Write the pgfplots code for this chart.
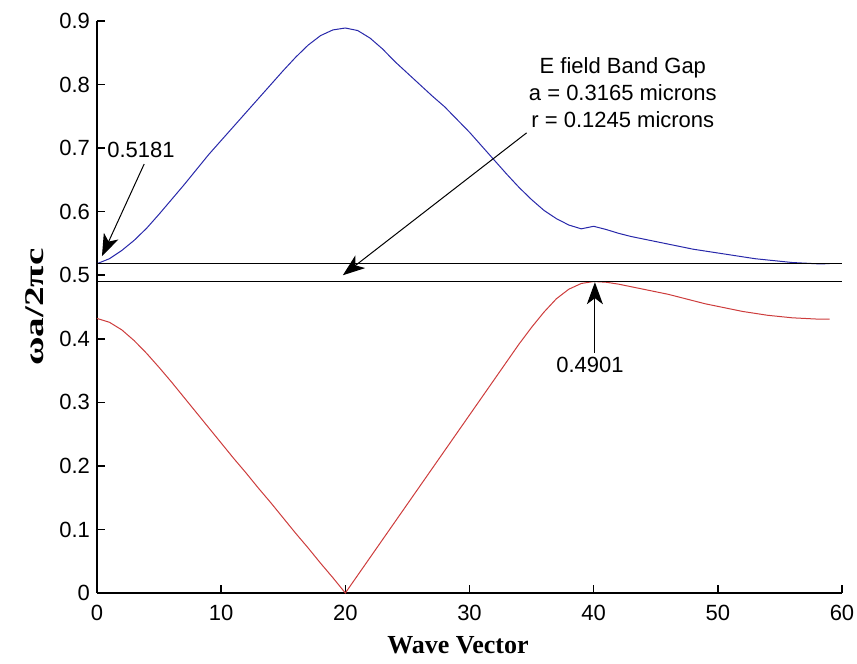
\documentclass[border=0pt]{standalone}
\usepackage{fontspec}
\setmainfont{Liberation Sans}
\newfontfamily\tnr{Liberation Serif}
\usepackage{graphicx}
\usepackage{pgfplots}
\usepackage{pgfplotstable}
\pgfplotsset{compat=1.18}
\usetikzlibrary{arrows.meta}
\definecolor{bluec}{RGB}{40,40,170}
\definecolor{redc}{RGB}{205,60,60}

\pgfplotstableread{
x y
0 0.5181
1 0.526
2 0.539
3 0.555
4 0.574
5 0.596
6 0.619
7 0.642
8 0.666
9 0.690
10 0.712
11 0.734
12 0.756
13 0.778
14 0.800
15 0.822
16 0.843
17 0.862
18 0.877
19 0.886
20 0.889
21 0.885
22 0.873
23 0.856
24 0.836
25 0.818
26 0.800
27 0.782
28 0.765
29 0.745
30 0.725
31 0.703
32 0.681
33 0.659
34 0.638
35 0.619
36 0.602
37 0.589
38 0.579
39 0.573
40 0.577
41 0.572
42 0.566
43 0.561
44 0.557
45 0.553
46 0.549
47 0.545
48 0.541
49 0.538
50 0.535
51 0.532
52 0.529
53 0.526
54 0.524
55 0.522
56 0.520
57 0.519
58 0.518
59 0.5181
}\upperband

\pgfplotstableread{
x y
0 0.432
1 0.426
2 0.414
3 0.397
4 0.377
5 0.355
6 0.332
7 0.308
8 0.284
9 0.260
10 0.236
11 0.212
12 0.189
13 0.165
14 0.142
15 0.118
16 0.094
17 0.071
18 0.047
19 0.024
20 0.000
21 0.028
22 0.056
23 0.084
24 0.112
25 0.140
26 0.168
27 0.196
28 0.224
29 0.252
30 0.280
31 0.308
32 0.336
33 0.364
34 0.392
35 0.418
36 0.442
37 0.463
38 0.478
39 0.487
40 0.4901
41 0.489
42 0.486
43 0.482
44 0.478
45 0.474
46 0.470
47 0.465
48 0.460
49 0.455
50 0.451
51 0.447
52 0.443
53 0.440
54 0.437
55 0.435
56 0.433
57 0.432
58 0.431
59 0.431
}\lowerband

\begin{document}
\begin{tikzpicture}
\useasboundingbox (-48.5pt,-35.5pt) rectangle (380pt,296.5pt);
\begin{axis}[
  scale only axis,
  width=372.5pt, height=286pt,
  xmin=0, xmax=60, ymin=0, ymax=0.9,
  axis x line*=bottom, axis y line*=left,
  axis line style={line width=0.9pt,-},
  xtick={0,10,20,30,40,50,60},
  ytick={0,0.1,0.2,0.3,0.4,0.5,0.6,0.7,0.8,0.9},
  tick align=inside,
  major tick length=4pt,
  tick style={line width=0.8pt,black},
  /pgf/number format/assume math mode=true,
  ticklabel style={font=\fontsize{11}{13}\selectfont},
  xticklabel style={yshift=-2.5pt},
  xlabel={Wave Vector},
  ylabel={\scalebox{1.45}[1]{ωa/2πc}},
  xlabel style={font=\tnr\bfseries\fontsize{13}{15}\selectfont,
    at={(axis description cs:0.4846,-0.0909)}, anchor=center},
  ylabel style={font=\tnr\bfseries\fontsize{13.5}{15}\selectfont,
    at={(axis description cs:-0.0832,0.5)}, anchor=center},
  clip=false,
]
\addplot[color=bluec, line width=0.5pt] table[x=x,y=y] {\upperband};
\addplot[color=redc, line width=0.5pt] table[x=x,y=y] {\lowerband};
\addplot[black, line width=0.6pt] coordinates {(0,0.5181) (60,0.5181)};
\addplot[black, line width=0.6pt] coordinates {(0,0.4901) (60,0.4901)};

\draw[-{Stealth[length=11pt,width=8pt,inset=3pt]}, line width=0.5pt]
  (axis cs:3.8,0.675) -- (axis cs:0.4,0.53);
\node[anchor=west, inner sep=0pt, font=\fontsize{11}{13}\selectfont]
  at (axis cs:0.8,0.697) {0.5181};

\node[align=center, font=\fontsize{11}{13.5}\selectfont]
  at (axis cs:42.35,0.788) {E field Band Gap\\a = 0.3165 microns\\r = 0.1245 microns};
\draw[-{Stealth[length=11pt,width=8pt,inset=3pt]}, line width=0.5pt]
  (axis cs:34.6,0.724) -- (axis cs:19.8,0.500);

\draw[-{Stealth[length=11pt,width=8pt,inset=3pt]}, line width=0.5pt]
  (axis cs:40.1,0.378) -- (axis cs:40.1,0.489);
\node[font=\fontsize{11}{13}\selectfont]
  at (axis cs:39.7,0.359) {0.4901};
\end{axis}
\end{tikzpicture}
\end{document}
